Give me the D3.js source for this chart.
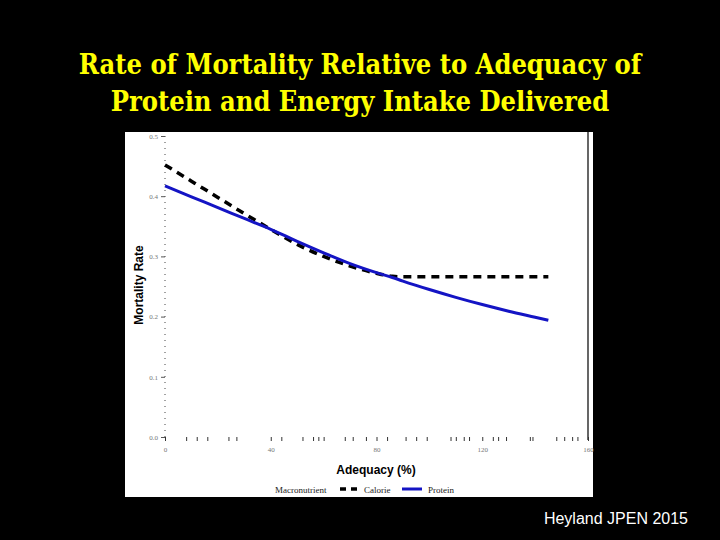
<!DOCTYPE html>
<html>
<head>
<meta charset="utf-8">
<script src="https://cdn.jsdelivr.net/npm/d3@7"></script>
<style>
  html, body { margin: 0; padding: 0; background: #000; }
  svg { display: block; }
</style>
</head>
<body>
<svg id="chart" width="720" height="540"></svg>
<script>
// Mortality rate vs adequacy (%)
const adequacy = [0, 10, 20, 30, 40, 50, 60, 70, 80, 86, 90, 100, 110, 120, 130, 140, 145];
const calorie  = [0.452, 0.425, 0.398, 0.371, 0.345, 0.320, 0.300, 0.284, 0.272, 0.267, 0.266, 0.266, 0.266, 0.266, 0.266, 0.266, 0.266];
const protein  = [0.417, 0.399, 0.381, 0.363, 0.345, 0.325, 0.306, 0.288, 0.273, 0.265, 0.259, 0.245, 0.232, 0.220, 0.209, 0.199, 0.194];
const xTicks = [0, 40, 80, 120, 160];
const xMinorTicks = [8, 12, 16, 24, 27, 44, 52, 56, 58, 60, 68, 71, 76, 84, 91, 95, 99, 108, 110, 113, 115, 124, 126, 129, 138, 139, 148, 151, 154, 156];
const yTicks = [0, 0.1, 0.2, 0.3, 0.4, 0.5];
const yTickLabels = ['0.0', '0.1', '0.2', '0.3', '0.4', '0.5'];
const titleLines = ['Rate of Mortality Relative to Adequacy of', 'Protein and Energy Intake Delivered'];

const svg = d3.select('#chart');

// title
svg.append('g').selectAll('text')
  .data(titleLines)
  .enter().append('text')
  .attr('x', 360)
  .attr('y', (d, i) => 74 + i * 37)
  .attr('text-anchor', 'middle')
  .attr('fill', '#ffff00')
  .attr('font-family', "'DejaVu Serif Condensed', 'DejaVu Serif'")
  .attr('font-stretch', 'condensed')
  .attr('font-weight', 'bold')
  .attr('font-size', 27)
  .text(d => d);

// white plot panel
svg.append('rect').attr('x', 125).attr('y', 132).attr('width', 468).attr('height', 365).attr('fill', '#fff');

const x = d3.scaleLinear().domain([0, 160]).range([165, 588]);
const y = d3.scaleLinear().domain([0, 0.5]).range([437, 136]);

// right frame line
svg.append('line').attr('x1', 588).attr('x2', 588).attr('y1', 132).attr('y2', 440)
  .attr('stroke', '#000').attr('stroke-width', 1.2);

// y axis: dotted line, short ticks, tiny labels
svg.append('line').attr('x1', 165).attr('x2', 165).attr('y1', y(0.5)).attr('y2', y(0))
  .attr('stroke', '#444').attr('stroke-width', 1).attr('stroke-dasharray', '1,5');
const yAxis = svg.append('g').attr('transform', 'translate(165,0)')
  .call(d3.axisLeft(y).tickValues(yTicks).tickSize(4).tickFormat((d, i) => yTickLabels[i]));
yAxis.select('.domain').remove();
yAxis.selectAll('line').attr('stroke', '#555');
yAxis.selectAll('text').attr('fill', '#777').attr('font-family', 'Liberation Serif').attr('font-size', 7);

// x axis: major ticks with labels + irregular minor ticks
const xAxis = svg.append('g').attr('transform', 'translate(0,437)')
  .call(d3.axisBottom(x).tickValues(xTicks).tickSize(4).tickPadding(6));
xAxis.select('.domain').remove();
xAxis.selectAll('line').attr('stroke', '#333');
xAxis.selectAll('text').attr('fill', '#777').attr('font-family', 'Liberation Serif').attr('font-size', 7);
svg.append('g').attr('transform', 'translate(0,437)')
  .call(d3.axisBottom(x).tickValues(xMinorTicks).tickSize(4).tickFormat(''))
  .call(g => g.select('.domain').remove())
  .selectAll('line').attr('stroke', '#333');

// axis titles
svg.append('text')
  .attr('transform', 'translate(143,285) rotate(-90)')
  .attr('text-anchor', 'middle')
  .attr('font-family', 'Liberation Sans Narrow, Liberation Sans').attr('font-weight', 'bold').attr('font-size', 12)
  .attr('fill', '#000')
  .text('Mortality Rate');
svg.append('text')
  .attr('x', 376).attr('y', 474)
  .attr('text-anchor', 'middle')
  .attr('font-family', 'Liberation Sans Narrow, Liberation Sans').attr('font-weight', 'bold').attr('font-size', 12)
  .attr('fill', '#000')
  .text('Adequacy (%)');

// curves
const line = d3.line().curve(d3.curveMonotoneX);
svg.append('path')
  .attr('d', line(adequacy.map((a, i) => [x(a), y(calorie[i])])))
  .attr('fill', 'none').attr('stroke', '#000').attr('stroke-width', 3.5)
  .attr('stroke-dasharray', '8,6');
svg.append('path')
  .attr('d', line(adequacy.map((a, i) => [x(a), y(protein[i])])))
  .attr('fill', 'none').attr('stroke', '#1414c4').attr('stroke-width', 3);

// legend
const legend = svg.append('g').attr('font-family', 'Liberation Serif').attr('font-size', 9).attr('fill', '#222');
legend.append('text').attr('x', 275).attr('y', 493).text('Macronutrient');
legend.append('line').attr('x1', 340).attr('x2', 357).attr('y1', 489).attr('y2', 489)
  .attr('stroke', '#000').attr('stroke-width', 3.5).attr('stroke-dasharray', '6,5');
legend.append('text').attr('x', 364).attr('y', 493).text('Calorie');
legend.append('line').attr('x1', 402).attr('x2', 422).attr('y1', 489).attr('y2', 489)
  .attr('stroke', '#1414c4').attr('stroke-width', 3);
legend.append('text').attr('x', 428).attr('y', 493).text('Protein');

// footer
svg.append('text')
  .attr('x', 688).attr('y', 524)
  .attr('text-anchor', 'end')
  .attr('fill', '#fff')
  .attr('font-family', 'Liberation Sans').attr('font-size', 16)
  .text('Heyland JPEN 2015');
</script>
</body>
</html>
